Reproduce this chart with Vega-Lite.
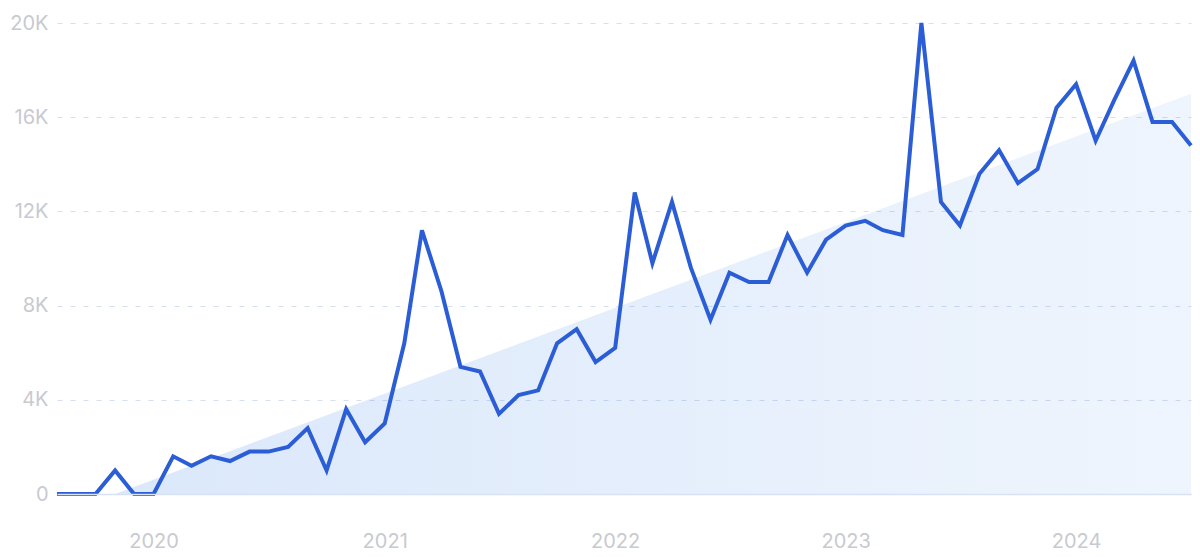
{
  "$schema": "https://vega.github.io/schema/vega-lite/v6.json",
  "width": 1134,
  "height": 471,
  "autosize": {"type": "none"},
  "padding": {"left": 57, "top": 23, "right": 9, "bottom": 63},
  "background": "white",
  "config": {"view": {"stroke": null}, "font": "Inter"},
  "datasets": {
    "series": [
      {"date": "2019-08-01", "value": 0},
      {"date": "2019-09-01", "value": 0},
      {"date": "2019-10-01", "value": 0},
      {"date": "2019-11-01", "value": 1000},
      {"date": "2019-12-01", "value": 0},
      {"date": "2020-01-01", "value": 0},
      {"date": "2020-02-01", "value": 1600},
      {"date": "2020-03-01", "value": 1200},
      {"date": "2020-04-01", "value": 1600},
      {"date": "2020-05-01", "value": 1400},
      {"date": "2020-06-01", "value": 1800},
      {"date": "2020-07-01", "value": 1800},
      {"date": "2020-08-01", "value": 2000},
      {"date": "2020-09-01", "value": 2800},
      {"date": "2020-10-01", "value": 1000},
      {"date": "2020-11-01", "value": 3600},
      {"date": "2020-12-01", "value": 2200},
      {"date": "2021-01-01", "value": 3000},
      {"date": "2021-02-01", "value": 6400},
      {"date": "2021-03-01", "value": 11200},
      {"date": "2021-04-01", "value": 8600},
      {"date": "2021-05-01", "value": 5400},
      {"date": "2021-06-01", "value": 5200},
      {"date": "2021-07-01", "value": 3400},
      {"date": "2021-08-01", "value": 4200},
      {"date": "2021-09-01", "value": 4400},
      {"date": "2021-10-01", "value": 6400},
      {"date": "2021-11-01", "value": 7000},
      {"date": "2021-12-01", "value": 5600},
      {"date": "2022-01-01", "value": 6200},
      {"date": "2022-02-01", "value": 12800},
      {"date": "2022-03-01", "value": 9800},
      {"date": "2022-04-01", "value": 12400},
      {"date": "2022-05-01", "value": 9600},
      {"date": "2022-06-01", "value": 7400},
      {"date": "2022-07-01", "value": 9400},
      {"date": "2022-08-01", "value": 9000},
      {"date": "2022-09-01", "value": 9000},
      {"date": "2022-10-01", "value": 11000},
      {"date": "2022-11-01", "value": 9400},
      {"date": "2022-12-01", "value": 10800},
      {"date": "2023-01-01", "value": 11400},
      {"date": "2023-02-01", "value": 11600},
      {"date": "2023-03-01", "value": 11200},
      {"date": "2023-04-01", "value": 11000},
      {"date": "2023-05-01", "value": 20000},
      {"date": "2023-06-01", "value": 12400},
      {"date": "2023-07-01", "value": 11400},
      {"date": "2023-08-01", "value": 13600},
      {"date": "2023-09-01", "value": 14600},
      {"date": "2023-10-01", "value": 13200},
      {"date": "2023-11-01", "value": 13800},
      {"date": "2023-12-01", "value": 16400},
      {"date": "2024-01-01", "value": 17400},
      {"date": "2024-02-01", "value": 15000},
      {"date": "2024-03-01", "value": 16700},
      {"date": "2024-04-01", "value": 18400},
      {"date": "2024-05-01", "value": 15800},
      {"date": "2024-06-01", "value": 15800},
      {"date": "2024-07-01", "value": 14800}
    ],
    "trend": [
      {"date": "2019-11-01", "value": 0},
      {"date": "2024-07-01", "value": 17000}
    ]
  },
  "encoding": {
    "x": {
      "field": "date",
      "type": "temporal",
      "timeUnit": "utcyearmonth",
      "scale": {
        "nice": false,
        "domain": [
          {"year": 2019, "month": 8, "date": 1, "utc": true},
          {"year": 2024, "month": 7, "date": 1, "utc": true}
        ]
      },
      "axis": {
        "title": null,
        "labelExpr": "utcFormat(datum.value, '%Y')",
        "tickCount": {"interval": "year", "step": 1},
        "grid": false,
        "ticks": false,
        "domain": true,
        "domainColor": "#d8e2f2",
        "domainWidth": 1.5,
        "labelFontSize": 20,
        "labelColor": "#c8cad0",
        "labelPadding": 37,
        "labelFlush": false,
        "zindex": 1
      }
    },
    "y": {
      "field": "value",
      "type": "quantitative",
      "scale": {"domain": [0, 20000], "nice": false},
      "axis": {
        "title": null,
        "values": [0, 4000, 8000, 12000, 16000, 20000],
        "labelExpr": "datum.value == 0 ? '0' : (datum.value / 1000) + 'K'",
        "domain": false,
        "ticks": false,
        "labelPadding": 9,
        "labelFontSize": 20,
        "labelColor": "#c8cad0",
        "grid": true,
        "gridColor": "#d6dfee",
        "gridDash": [5, 8],
        "gridWidth": 1
      }
    }
  },
  "layer": [
    {
      "data": {"name": "trend"},
      "mark": {
        "type": "area",
        "color": {
          "gradient": "linear",
          "x1": 0, "y1": 0, "x2": 1, "y2": 0,
          "stops": [
            {"offset": 0, "color": "rgba(40,120,230,0.17)"},
            {"offset": 1, "color": "rgba(40,120,230,0.075)"}
          ]
        }
      }
    },
    {
      "data": {"name": "series"},
      "mark": {"type": "line", "color": "#2b5dd6", "strokeWidth": 4}
    }
  ]
}
